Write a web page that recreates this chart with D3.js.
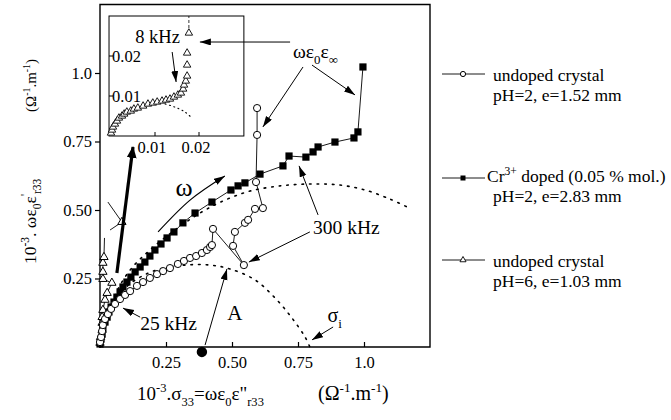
<!DOCTYPE html>
<html>
<head>
<meta charset="utf-8">
<script src="https://cdn.jsdelivr.net/npm/d3@7"></script>
<style>
  body { margin: 0; background: #fff; }
  svg { display: block; }
  text { font-family: 'Liberation Serif', 'Times New Roman', serif; fill: #000; }
</style>
</head>
<body>
<svg id="chart" width="671" height="420"></svg>
<script>
// ---- data ----
// undoped crystal pH=2 (open circles), [sigma, omega eps0 eps']
const circlePts = [
  [0, 0.018], [0.004, 0.036], [0.008, 0.058], [0.011, 0.080], [0.019, 0.102], [0.030, 0.120],
  [0.042, 0.139], [0.057, 0.157], [0.076, 0.175], [0.095, 0.190], [0.114, 0.204], [0.140, 0.223],
  [0.163, 0.237], [0.189, 0.252], [0.216, 0.266], [0.239, 0.277], [0.265, 0.288], [0.295, 0.303],
  [0.318, 0.314], [0.341, 0.325], [0.364, 0.332], [0.386, 0.343], [0.405, 0.354], [0.417, 0.365],
  [0.424, 0.372], [0.428, 0.431], [0.545, 0.299], [0.504, 0.369], [0.511, 0.420], [0.549, 0.453],
  [0.561, 0.464], [0.587, 0.504], [0.617, 0.507], [0.591, 0.602], [0.595, 0.774], [0.595, 0.872]
];
// Cr3+ doped (filled squares)
const squarePts = [
  [0, 0.011], [0.004, 0.029], [0.008, 0.047], [0.011, 0.069], [0.019, 0.091], [0.027, 0.109],
  [0.034, 0.128], [0.042, 0.146], [0.053, 0.164], [0.064, 0.182], [0.076, 0.201], [0.087, 0.219],
  [0.102, 0.237], [0.117, 0.255], [0.133, 0.274], [0.152, 0.292], [0.170, 0.310], [0.189, 0.332],
  [0.208, 0.354], [0.231, 0.376], [0.254, 0.398], [0.280, 0.420], [0.314, 0.453], [0.360, 0.489],
  [0.424, 0.529], [0.496, 0.573], [0.523, 0.588], [0.549, 0.599], [0.606, 0.631], [0.693, 0.661],
  [0.716, 0.697], [0.780, 0.693], [0.807, 0.712], [0.826, 0.730], [0.890, 0.748], [0.962, 0.763],
  [0.977, 0.785], [0.996, 1.022]
];
// undoped crystal pH=6 (open triangles), main plot
const trianglePts = [
  [0, 0.015], [0.002, 0.036], [0.008, 0.062], [0.008, 0.088], [0.008, 0.109], [0.011, 0.135],
  [0.019, 0.172], [0.027, 0.197], [0.045, 0.234], [0.011, 0.248], [0.011, 0.274], [0.011, 0.307],
  [0.015, 0.328]
];
const triangleTail = [[0.015, 0.328], [0.017, 0.398]];
const triangleFar = [[0.083, 0.456]];
const triangleFarLines = [[0.030, 0.529], [0.083, 0.456], [0.038, 0.427]];
// same sample, inset
const insetPts = [
  [0, 0.00075], [0.00023, 0.0015], [0.00045, 0.00225], [0.0009, 0.003], [0.00136, 0.00375],
  [0.0018, 0.0045], [0.0025, 0.005], [0.0030, 0.0055], [0.0036, 0.006], [0.0045, 0.00625],
  [0.0052, 0.00675], [0.0061, 0.007], [0.0073, 0.0075], [0.0084, 0.008], [0.0095, 0.00825],
  [0.0105, 0.0085], [0.0116, 0.00875], [0.0125, 0.009], [0.0134, 0.00925], [0.0143, 0.00975],
  [0.0152, 0.01025], [0.0159, 0.01075], [0.0164, 0.01175], [0.0166, 0.01275], [0.0170, 0.01375],
  [0.0173, 0.015], [0.0173, 0.01775], [0.0173, 0.02075], [0.0177, 0.02575]
];
const insetTop = [[0.0177, 0.02575], [0.0177, 0.03]];
// dotted arcs
const arcSmall = [
  [0, 0], [0.015, 0.080], [0.045, 0.153], [0.095, 0.215], [0.152, 0.255], [0.227, 0.285],
  [0.322, 0.299], [0.417, 0.299], [0.492, 0.285], [0.587, 0.245], [0.663, 0.179], [0.727, 0.106],
  [0.777, 0.036], [0.795, 0]
];
const arcBig = [
  [0, 0], [0.023, 0.099], [0.057, 0.190], [0.114, 0.281], [0.189, 0.354], [0.284, 0.427],
  [0.379, 0.489], [0.473, 0.536], [0.568, 0.569], [0.682, 0.588], [0.795, 0.595], [0.909, 0.591],
  [1.004, 0.573], [1.098, 0.540], [1.163, 0.511]
];
const arcInset = [[0.0123, 0.008], [0.0145, 0.00725], [0.0168, 0.006], [0.0184, 0.0045]];
const centerDot = [0.386, -0.018];

const xTicks = [0.25, 0.5, 0.75, 1.0];
const yTicks = [0.25, 0.5, 0.75, 1.0];
const xTickLabels = ["0.25", "0.50", "0.75", "1.0"];
const yTickLabels = ["0.25", "0.50", "0.75", "1.0"];
const insetTicks = [0.01, 0.02];
const insetTickLabels = ["0.01", "0.02"];

const legendNames = ["undoped crystal", "doped (0.05 % mol.)", "undoped crystal"];
const legendSub = ["pH=2, e=1.52 mm", "pH=2, e=2.83 mm", "pH=6, e=1.03 mm"];
const legendSymbols = ["circle", "square", "triangle"];

const svg = d3.select("#chart");

const x = d3.scaleLinear().domain([0, 1.25]).range([100, 430]);
const y = d3.scaleLinear().domain([0, 1.25]).range([347, 4.5]);
const ix = d3.scaleLinear().domain([0, 0.03]).range([111, 243]);
const iy = d3.scaleLinear().domain([0, 0.03]).range([136, 16]);

// arrow heads
const defs = svg.append("defs");
defs.append("marker").attr("id", "head").attr("markerUnits", "userSpaceOnUse")
  .attr("markerWidth", 12).attr("markerHeight", 8).attr("refX", 11).attr("refY", 3.5)
  .attr("orient", "auto")
  .append("path").attr("d", "M0,0 L11,3.5 L0,7 Z").attr("fill", "#000");
defs.append("marker").attr("id", "headBig").attr("markerUnits", "userSpaceOnUse")
  .attr("markerWidth", 12).attr("markerHeight", 12).attr("refX", 11).attr("refY", 5)
  .attr("orient", "auto")
  .append("path").attr("d", "M0,0 L12,5 L0,10 Z").attr("fill", "#000");

// rich text helper (sub/superscripts)
function rich(t, parts, size) {
  let cur = 0;
  parts.forEach(([s, k]) => {
    const off = k === "sup" ? -0.42 * size : k === "sub" ? 0.3 * size : 0;
    t.append("tspan").attr("dy", off - cur).attr("font-size", k ? size * 0.66 : size).text(s);
    cur = off;
  });
}

// ---- frame & axes ----
const lineGen = (sx, sy) => d3.line().x(d => sx(d[0])).y(d => sy(d[1]));

svg.append("path")
  .attr("d", `M${x(0)},${y(0)} L${x(0)},${y(1.25)} L${x(1.25)},${y(1.25)} L${x(1.25)},${y(0)} Z`)
  .attr("fill", "none").attr("stroke", "#000").attr("stroke-width", 1.4);

const yAxis = svg.append("g").attr("transform", `translate(${x(0)},0)`)
  .call(d3.axisLeft(y).tickValues(yTicks).tickFormat((d, i) => yTickLabels[i]).tickSize(5).tickSizeOuter(0));
const xAxis = svg.append("g").attr("transform", `translate(0,${y(0)})`)
  .call(d3.axisBottom(x).tickValues(xTicks).tickFormat((d, i) => xTickLabels[i]).tickSize(-5).tickPadding(9).tickSizeOuter(0));
[xAxis, yAxis].forEach(a => {
  a.select(".domain").remove();
  a.selectAll("line").attr("stroke", "#000").attr("stroke-width", 1.2);
  a.selectAll("text").attr("font-size", 16.5).attr("font-family", "'Liberation Serif', serif");
});

// axis titles
rich(svg.append("text").attr("x", 137).attr("y", 400),
  [["10"], ["-3", "sup"], [".σ"], ["33", "sub"], ["=ωε"], ["0", "sub"], ["ε\""], ["r33", "sub"]], 19);
rich(svg.append("text").attr("x", 318).attr("y", 400),
  [["(Ω"], ["-1", "sup"], [".m"], ["-1", "sup"], [")"]], 20);
rich(svg.append("text").attr("transform", "translate(36,264) rotate(-90)"),
  [["10"], ["-3", "sup"], [". ωε"], ["0", "sub"], ["ε"], ["'", "sup"], ["r33", "sub"]], 17.5);
rich(svg.append("text").attr("transform", "translate(36,112) rotate(-90)"),
  [["(Ω"], ["-1", "sup"], [".m"], ["-1", "sup"], [")"]], 15);

// ---- dotted fits ----
const smooth = (sx, sy) => d3.line().x(d => sx(d[0])).y(d => sy(d[1])).curve(d3.curveCatmullRom);
[arcSmall, arcBig].forEach(a => svg.append("path").attr("d", smooth(x, y)(a))
  .attr("fill", "none").attr("stroke", "#000").attr("stroke-width", 1.6)
  .attr("stroke-dasharray", "1.6 6").attr("stroke-linecap", "round"));

// ---- series ----
function drawLine(pts, sx, sy) {
  return svg.append("path").attr("d", lineGen(sx, sy)(pts))
    .attr("fill", "none").attr("stroke", "#000").attr("stroke-width", 0.9);
}
drawLine(trianglePts, x, y);
drawLine(triangleTail, x, y);
drawLine(triangleFarLines, x, y);
drawLine(squarePts, x, y);
drawLine(circlePts, x, y);

const tri = d3.symbol().type(d3.symbolTriangle).size(30);
svg.append("g").selectAll("path").data(trianglePts.concat(triangleFar)).join("path")
  .attr("d", tri).attr("transform", d => `translate(${x(d[0])},${y(d[1])})`)
  .attr("fill", "#fff").attr("stroke", "#000").attr("stroke-width", 1);
svg.append("g").selectAll("rect").data(squarePts).join("rect")
  .attr("x", d => x(d[0]) - 3.6).attr("y", d => y(d[1]) - 3.6)
  .attr("width", 7.2).attr("height", 7.2).attr("fill", "#000");
svg.append("g").selectAll("circle").data(circlePts).join("circle")
  .attr("cx", d => x(d[0])).attr("cy", d => y(d[1])).attr("r", 3.6)
  .attr("fill", "#fff").attr("stroke", "#000").attr("stroke-width", 1);

svg.append("circle").attr("cx", x(centerDot[0])).attr("cy", y(centerDot[1])).attr("r", 5.2).attr("fill", "#000");

// ---- inset ----
const ig = svg.append("g");
ig.append("rect").attr("x", ix(-0.00045)).attr("y", iy(0.03)).attr("width", ix(0.0302) - ix(-0.00045))
  .attr("height", iy(0) - iy(0.03)).attr("fill", "#fff").attr("stroke", "#000").attr("stroke-width", 1);
insetTicks.forEach((t, i) => {
  ig.append("line").attr("x1", ix(t)).attr("x2", ix(t)).attr("y1", iy(0)).attr("y2", iy(0) - 4).attr("stroke", "#000");
  ig.append("line").attr("x1", ix(-0.00045)).attr("x2", ix(-0.00045) + 4).attr("y1", iy(t)).attr("y2", iy(t)).attr("stroke", "#000");
  ig.append("text").attr("x", ix(t) - 3).attr("y", iy(0) + 17).attr("text-anchor", "middle").attr("font-size", 16.5).text(insetTickLabels[i]);
  ig.append("text").attr("x", ix(0) + 1).attr("y", iy(t) + 6).attr("font-size", 16.5).text(insetTickLabels[i]);
});
ig.append("path").attr("d", smooth(ix, iy)(arcInset)).attr("fill", "none").attr("stroke", "#000")
  .attr("stroke-width", 1.1).attr("stroke-dasharray", "1 3.5").attr("stroke-linecap", "round");
ig.append("path").attr("d", lineGen(ix, iy)(insetTop)).attr("stroke", "#000").attr("stroke-width", 0.8)
  .attr("stroke-dasharray", "3 2");
ig.selectAll(".itri").data(insetPts).join("path").attr("class", "itri")
  .attr("d", d3.symbol().type(d3.symbolTriangle).size(24))
  .attr("transform", d => `translate(${ix(d[0])},${iy(d[1])})`)
  .attr("fill", "#fff").attr("stroke", "#000").attr("stroke-width", 0.9);
ig.append("text").attr("x", ix(0.0055)).attr("y", iy(0.02325)).attr("font-size", 18.5).text("8 kHz");

// ---- annotations ----
const P = (sp, d) => sp === "i" ? [ix(d[0]), iy(d[1])] : [x(d[0]), y(d[1])];
const arrows = [
  ["m", [0.72, 1.113], "i", [0.0202, 0.0235]],
  ["m", [0.769, 1.022], "m", [0.617, 0.803]],
  ["m", [0.803, 1.029], "m", [0.966, 0.920]],
  ["i", [0.0139, 0.021], "i", [0.0148, 0.0135]],
  ["m", [0.826, 0.482], "m", [0.754, 0.661]],
  ["m", [0.795, 0.420], "m", [0.564, 0.310]],
  ["m", [0.152, 0.109], "m", [0.087, 0.142]],
  ["m", [0.883, 0.073], "m", [0.803, 0.026]],
  ["m", [0.398, 0.007], "m", [0.481, 0.285]]
];
arrows.forEach(([s0, a, s1, b]) => {
  const p0 = P(s0, a), p1 = P(s1, b);
  svg.append("line").attr("x1", p0[0]).attr("y1", p0[1]).attr("x2", p1[0]).attr("y2", p1[1])
    .attr("stroke", "#000").attr("stroke-width", 1).attr("marker-end", "url(#head)");
});
// thick arrow towards inset
const thick = [[0.064, 0.270], [0.125, 0.730]];
svg.append("line").attr("x1", x(thick[0][0])).attr("y1", y(thick[0][1]))
  .attr("x2", x(thick[1][0])).attr("y2", y(thick[1][1]))
  .attr("stroke", "#000").attr("stroke-width", 3.2).attr("marker-end", "url(#headBig)");
// curved omega arrow
const omegaArrow = [[0.220, 0.420], [0.341, 0.536], [0.473, 0.624]];
svg.append("path").attr("d", smooth(x, y).curve(d3.curveNatural)(omegaArrow))
  .attr("fill", "none").attr("stroke", "#000").attr("stroke-width", 1.2).attr("marker-end", "url(#head)");

rich(svg.append("text").attr("x", x(0.731)).attr("y", y(1.055)),
  [["ωε"], ["0", "sub"], ["ε"], ["∞", "sub"]], 19.5);
svg.append("text").attr("x", x(0.318)).attr("y", y(0.551)).attr("text-anchor", "middle").attr("font-size", 26).text("ω");
svg.append("text").attr("x", x(0.807)).attr("y", y(0.412)).attr("font-size", 19.5).text("300 kHz");
svg.append("text").attr("x", x(0.152)).attr("y", y(0.062)).attr("font-size", 19.5).text("25 kHz");
svg.append("text").attr("x", x(0.511)).attr("y", y(0.099)).attr("text-anchor", "middle").attr("font-size", 21).text("A");
rich(svg.append("text").attr("x", x(0.862)).attr("y", y(0.091)), [["σ"], ["i", "sub"]], 20);

// ---- legend ----
const legendY = [74, 178, 260];
legendNames.forEach((name, i) => {
  const g = svg.append("g").attr("transform", `translate(0,${legendY[i]})`);
  g.append("line").attr("x1", 442).attr("x2", 485).attr("y1", 0).attr("y2", 0).attr("stroke", "#000").attr("stroke-width", 0.9);
  const s = legendSymbols[i];
  if (s === "circle") g.append("circle").attr("cx", 463).attr("cy", 0).attr("r", 2.6).attr("fill", "#fff").attr("stroke", "#000");
  if (s === "square") g.append("rect").attr("x", 460.5).attr("y", -2.5).attr("width", 5).attr("height", 5).attr("fill", "#000");
  if (s === "triangle") g.append("path").attr("d", d3.symbol().type(d3.symbolTriangle).size(16)).attr("transform", "translate(463,0)")
    .attr("fill", "#fff").attr("stroke", "#000").attr("stroke-width", 0.9);
  const t = g.append("text").attr("x", i === 1 ? 487 : 493).attr("y", i === 1 ? 4 : 7);
  if (i === 1) rich(t, [["Cr"], ["3+", "sup"], [" " + name]], 17.5);
  else t.attr("font-size", 17.5).text(name);
  g.append("text").attr("x", 493).attr("y", i === 1 ? 24 : 27).attr("font-size", 17.5).text(legendSub[i]);
});
</script>
</body>
</html>
